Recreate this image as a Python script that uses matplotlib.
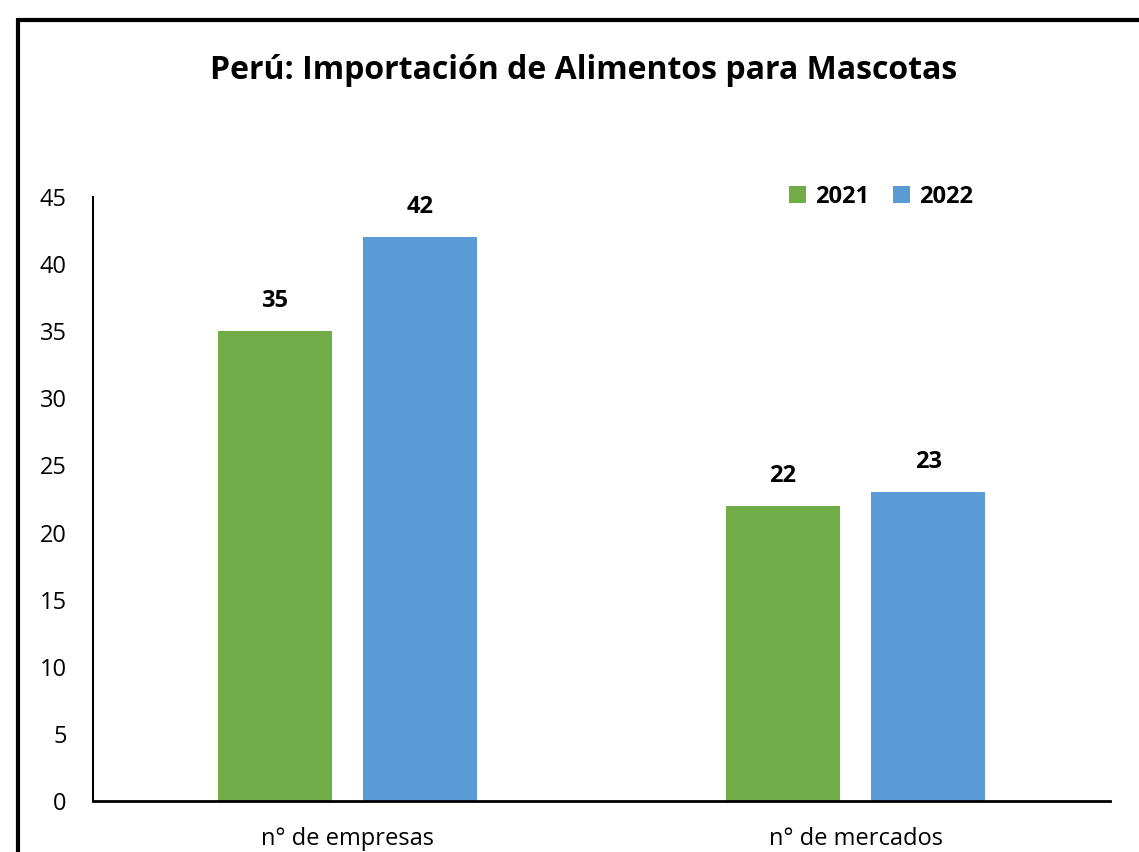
import numpy as np
import matplotlib.pyplot as plt
from matplotlib.patches import Rectangle

plt.rcParams['font.family'] = ['Open Sans', 'DejaVu Sans']

categorias = ['n° de empresas', 'n° de mercados']
anios = ['2021', '2022']
valores_2021 = [35, 22]
valores_2022 = [42, 23]
colores = ['#70AD47', '#5B9BD5']

fig = plt.figure(figsize=(11.39, 8.52), dpi=100)
ax = fig.add_axes([0.0817, 0.0599, 0.8928, 0.7089])

# marco exterior (recortado a la derecha y abajo)
fig.patches.append(Rectangle((18/1139, -0.05), 1.2, 1 - 20/852 + 0.05,
                             transform=fig.transFigure, fill=False,
                             edgecolor='black', linewidth=3))

x = np.arange(len(categorias))
ancho = 0.224
off = 0.143
b1 = ax.bar(x - off, valores_2021, ancho, color=colores[0], label=anios[0])
b2 = ax.bar(x + off, valores_2022, ancho, color=colores[1], label=anios[1])

for barras in (b1, b2):
    for b in barras:
        ax.annotate(str(int(b.get_height())),
                    (b.get_x() + b.get_width()/2, b.get_height()),
                    xytext=(0, 13), textcoords='offset points',
                    ha='center', va='bottom', fontsize=17, fontweight='bold')

ax.set_xlim(-0.5, 1.5)
ax.set_ylim(0, 45)
ax.set_yticks(range(0, 46, 5))
ax.set_xticks(x)
ax.set_xticklabels(categorias)
ax.tick_params(axis='both', length=0, labelsize=17)
ax.tick_params(axis='x', pad=19)
ax.tick_params(axis='y', pad=19)
for s in ['top', 'right']:
    ax.spines[s].set_visible(False)
ax.spines['left'].set_linewidth(1.5)
ax.spines['bottom'].set_linewidth(2)

fig.text(0.512, 0.917, 'Perú: Importación de Alimentos para Mascotas',
         ha='center', va='center', fontsize=23, fontweight='bold')

ax.legend(loc='center', bbox_to_anchor=(0.775, 1.0), ncol=2, frameon=False,
          prop={'size': 17, 'weight': 'bold'}, handlelength=0.7,
          handleheight=0.7, handletextpad=0.4, columnspacing=1.0)

fig.savefig('out.png', dpi=100)
